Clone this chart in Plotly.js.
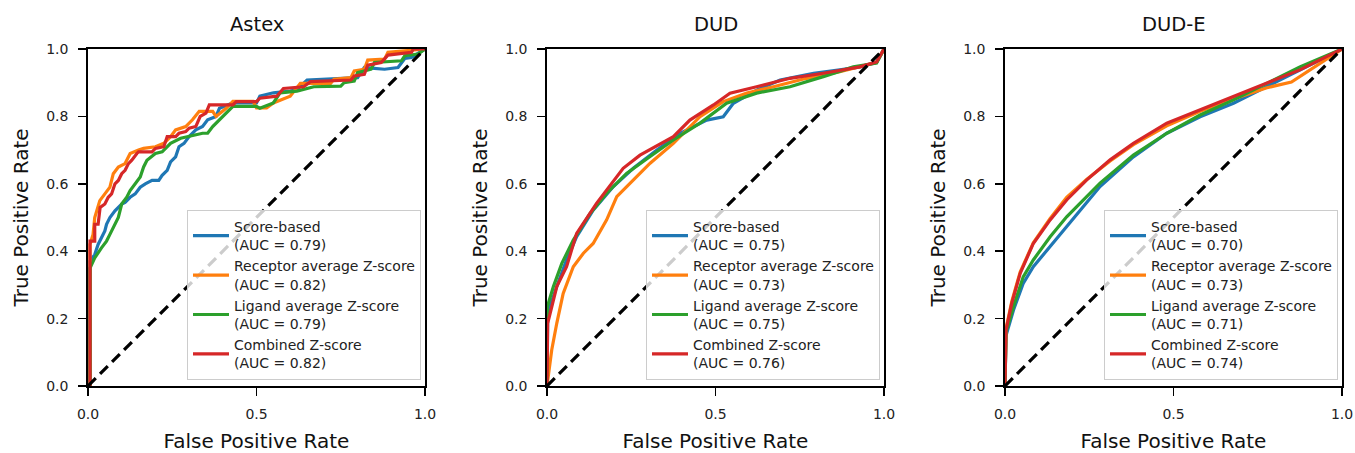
<!DOCTYPE html>
<html>
<head>
<meta charset="utf-8">
<script src="https://cdn.plot.ly/plotly-3.0.1.min.js"></script>
<style>html,body{margin:0;padding:0;background:#fff;}#chart{width:1355px;height:453px;}</style>
</head>
<body>
<div id="chart"></div>
<script>
// ---------- data ----------
const panelTitles = ["Astex", "DUD", "DUD-E"];
const seriesNames = ["Score-based", "Receptor average Z-score", "Ligand average Z-score", "Combined Z-score"];
const seriesColors = ["#1f77b4", "#ff7f0e", "#2ca02c", "#d62728"];
const xTickVals = [0, 0.5, 1];
const yTickVals = [0, 0.2, 0.4, 0.6, 0.8, 1];
const diagX = [0, 1];
const diagY = [0, 1];

const astexAUC = [0.79, 0.82, 0.79, 0.82];
const dudAUC = [0.75, 0.73, 0.75, 0.76];
const dudeAUC = [0.70, 0.73, 0.71, 0.74];

// Astex
const astexScoreX = [0, 0.006, 0.006, 0.02, 0.03, 0.04, 0.05, 0.055, 0.065, 0.08, 0.10, 0.11, 0.125, 0.14, 0.155, 0.17, 0.19, 0.21, 0.22, 0.235, 0.245, 0.26, 0.27, 0.285, 0.30, 0.32, 0.34, 0.355, 0.38, 0.39, 0.43, 0.50, 0.51, 0.55, 0.60, 0.62, 0.65, 0.80, 0.82, 0.88, 0.92, 0.94, 0.96, 1];
const astexScoreY = [0, 0, 0.37, 0.39, 0.42, 0.44, 0.46, 0.48, 0.50, 0.52, 0.54, 0.545, 0.56, 0.57, 0.59, 0.60, 0.61, 0.61, 0.625, 0.64, 0.665, 0.68, 0.71, 0.72, 0.74, 0.76, 0.77, 0.79, 0.80, 0.824, 0.84, 0.84, 0.86, 0.87, 0.875, 0.88, 0.908, 0.915, 0.945, 0.94, 0.945, 0.972, 0.975, 1];
const astexReceptorX = [0, 0.006, 0.006, 0.015, 0.02, 0.035, 0.05, 0.065, 0.075, 0.09, 0.11, 0.125, 0.15, 0.165, 0.20, 0.225, 0.245, 0.26, 0.29, 0.31, 0.33, 0.37, 0.38, 0.41, 0.43, 0.49, 0.50, 0.53, 0.55, 0.60, 0.63, 0.72, 0.73, 0.78, 0.79, 0.82, 0.83, 0.88, 0.89, 1];
const astexReceptorY = [0, 0, 0.42, 0.45, 0.50, 0.55, 0.57, 0.59, 0.63, 0.65, 0.66, 0.69, 0.70, 0.705, 0.71, 0.72, 0.74, 0.76, 0.77, 0.79, 0.815, 0.815, 0.80, 0.824, 0.845, 0.845, 0.825, 0.825, 0.84, 0.86, 0.898, 0.898, 0.91, 0.915, 0.935, 0.94, 0.967, 0.97, 0.99, 1];
const astexLigandX = [0, 0.006, 0.006, 0.02, 0.04, 0.055, 0.065, 0.075, 0.09, 0.10, 0.115, 0.125, 0.14, 0.155, 0.165, 0.175, 0.20, 0.22, 0.245, 0.275, 0.34, 0.355, 0.37, 0.385, 0.40, 0.43, 0.50, 0.51, 0.55, 0.57, 0.62, 0.67, 0.75, 0.76, 0.79, 0.80, 0.84, 0.85, 0.93, 0.94, 0.98, 1];
const astexLigandY = [0, 0, 0.35, 0.38, 0.41, 0.43, 0.45, 0.47, 0.50, 0.54, 0.56, 0.58, 0.60, 0.62, 0.65, 0.67, 0.69, 0.695, 0.72, 0.735, 0.75, 0.75, 0.77, 0.785, 0.80, 0.83, 0.83, 0.824, 0.84, 0.87, 0.875, 0.888, 0.89, 0.90, 0.905, 0.93, 0.94, 0.96, 0.965, 0.98, 0.985, 1];
const astexCombinedX = [0, 0.006, 0.006, 0.02, 0.02, 0.03, 0.036, 0.05, 0.06, 0.07, 0.08, 0.09, 0.10, 0.11, 0.12, 0.13, 0.145, 0.15, 0.19, 0.20, 0.225, 0.235, 0.26, 0.27, 0.29, 0.30, 0.32, 0.333, 0.35, 0.36, 0.43, 0.44, 0.50, 0.51, 0.56, 0.58, 0.64, 0.66, 0.78, 0.79, 0.82, 0.83, 0.87, 0.89, 0.96, 0.965, 1];
const astexCombinedY = [0, 0, 0.43, 0.43, 0.48, 0.48, 0.53, 0.54, 0.56, 0.57, 0.60, 0.61, 0.63, 0.64, 0.66, 0.67, 0.69, 0.695, 0.695, 0.705, 0.71, 0.74, 0.74, 0.75, 0.755, 0.765, 0.77, 0.80, 0.81, 0.834, 0.834, 0.844, 0.844, 0.854, 0.86, 0.883, 0.888, 0.903, 0.908, 0.92, 0.925, 0.952, 0.96, 0.982, 0.99, 1, 1];

// DUD
const dudScoreX = [0, 0.002, 0.029, 0.058, 0.088, 0.137, 0.197, 0.256, 0.326, 0.395, 0.474, 0.523, 0.553, 0.622, 0.692, 0.791, 0.869, 0.929, 0.978, 1];
const dudScoreY = [0, 0.215, 0.295, 0.374, 0.443, 0.522, 0.592, 0.646, 0.700, 0.750, 0.789, 0.799, 0.839, 0.878, 0.908, 0.928, 0.938, 0.947, 0.960, 1];
const dudReceptorX = [0, 0.014, 0.029, 0.048, 0.078, 0.108, 0.137, 0.177, 0.207, 0.256, 0.306, 0.375, 0.454, 0.523, 0.593, 0.672, 0.770, 0.869, 0.929, 0.978, 1];
const dudReceptorY = [0, 0.107, 0.186, 0.275, 0.354, 0.394, 0.423, 0.493, 0.562, 0.611, 0.661, 0.720, 0.799, 0.844, 0.869, 0.888, 0.913, 0.933, 0.947, 0.960, 1];
const dudLigandX = [0, 0.001, 0.019, 0.044, 0.078, 0.128, 0.177, 0.236, 0.306, 0.375, 0.454, 0.533, 0.622, 0.721, 0.820, 0.909, 0.978, 1];
const dudLigandY = [0, 0.235, 0.295, 0.364, 0.433, 0.512, 0.572, 0.631, 0.681, 0.730, 0.780, 0.839, 0.869, 0.888, 0.918, 0.947, 0.958, 1];
const dudCombinedX = [0, 0.002, 0.029, 0.058, 0.088, 0.147, 0.226, 0.276, 0.375, 0.424, 0.494, 0.543, 0.622, 0.721, 0.820, 0.929, 0.978, 1];
const dudCombinedY = [0, 0.186, 0.295, 0.354, 0.453, 0.542, 0.646, 0.685, 0.740, 0.789, 0.834, 0.869, 0.888, 0.913, 0.928, 0.947, 0.962, 1];

// DUD-E
const dudeScoreX = [0, 0.003, 0.025, 0.054, 0.084, 0.134, 0.183, 0.232, 0.282, 0.381, 0.480, 0.579, 0.678, 0.777, 0.875, 1];
const dudeScoreY = [0, 0.150, 0.225, 0.304, 0.354, 0.413, 0.473, 0.532, 0.592, 0.680, 0.750, 0.799, 0.839, 0.888, 0.938, 1];
const dudeReceptorX = [0, 0.003, 0.020, 0.045, 0.084, 0.134, 0.183, 0.242, 0.312, 0.381, 0.480, 0.579, 0.678, 0.777, 0.850, 0.900, 1];
const dudeReceptorY = [0, 0.170, 0.250, 0.338, 0.425, 0.497, 0.560, 0.613, 0.668, 0.716, 0.772, 0.815, 0.852, 0.885, 0.902, 0.935, 1];
const dudeLigandX = [0, 0.003, 0.025, 0.054, 0.084, 0.134, 0.183, 0.232, 0.282, 0.381, 0.480, 0.579, 0.678, 0.777, 0.875, 1];
const dudeLigandY = [0, 0.160, 0.235, 0.324, 0.374, 0.443, 0.502, 0.552, 0.602, 0.685, 0.750, 0.804, 0.849, 0.898, 0.947, 1];
const dudeCombinedX = [0, 0.003, 0.020, 0.045, 0.084, 0.134, 0.183, 0.242, 0.312, 0.381, 0.480, 0.579, 0.678, 0.777, 0.875, 1];
const dudeCombinedY = [0, 0.166, 0.245, 0.334, 0.423, 0.493, 0.552, 0.611, 0.671, 0.720, 0.780, 0.819, 0.858, 0.898, 0.938, 1];

const panels = [
  {xs: [astexScoreX, astexReceptorX, astexLigandX, astexCombinedX], ys: [astexScoreY, astexReceptorY, astexLigandY, astexCombinedY], auc: astexAUC},
  {xs: [dudScoreX, dudReceptorX, dudLigandX, dudCombinedX], ys: [dudScoreY, dudReceptorY, dudLigandY, dudCombinedY], auc: dudAUC},
  {xs: [dudeScoreX, dudeReceptorX, dudeLigandX, dudeCombinedX], ys: [dudeScoreY, dudeReceptorY, dudeLigandY, dudeCombinedY], auc: dudeAUC}
];

// ---------- build ----------
const FONT = "DejaVu Sans, sans-serif";
const W = 1355, H = 453;
const plotLeftPx = [88, 547, 1005];
const plotSize = 337;
const plotTopPx = 49;

const traces = [];
const layout = {
  width: W, height: H,
  margin: {l: 0, r: 0, t: 0, b: 0},
  paper_bgcolor: "#fff", plot_bgcolor: "#fff",
  font: {family: FONT, color: "#222"},
  showlegend: true,
  annotations: []
};

panels.forEach((p, i) => {
  const sfx = i === 0 ? "" : String(i + 1);
  const xa = "x" + sfx, ya = "y" + sfx;
  const legName = "legend" + sfx;
  for (let s = 0; s < 4; s++) {
    traces.push({
      type: "scatter", mode: "lines",
      x: p.xs[s], y: p.ys[s], xaxis: xa, yaxis: ya,
      name: seriesNames[s] + "<br>(AUC = " + p.auc[s].toFixed(2) + ")",
      line: {color: seriesColors[s], width: 3.2},
      legend: legName, showlegend: true
    });
  }
  traces.push({
    type: "scatter", mode: "lines", x: diagX, y: diagY, xaxis: xa, yaxis: ya,
    line: {color: "#000", width: 3.2, dash: "11px,6px"},
    showlegend: false, hoverinfo: "skip"
  });

  const x0 = plotLeftPx[i] / W, x1 = (plotLeftPx[i] + plotSize) / W;
  const y1 = 1 - plotTopPx / H, y0 = 1 - (plotTopPx + plotSize) / H;
  layout["xaxis" + sfx] = {
    domain: [x0, x1], anchor: ya, range: [0, 1],
    tickvals: xTickVals, tickformat: ".1f",
    ticks: "outside", ticklen: 8, tickwidth: 1.5, tickcolor: "#000",
    ticklabelstandoff: 6,
    showline: true, linecolor: "#000", linewidth: 1.8, mirror: true,
    showgrid: false, zeroline: false,
    tickfont: {family: FONT, size: 14, color: "#222"},
    title: {text: "False Positive Rate", font: {family: FONT, size: 20, color: "#111"}, standoff: 14},
    automargin: false, fixedrange: true
  };
  layout["yaxis" + sfx] = {
    domain: [y0, y1], anchor: xa, range: [0, 1],
    tickvals: yTickVals, tickformat: ".1f",
    ticks: "outside", ticklen: 8, tickwidth: 1.5, tickcolor: "#000",
    ticklabelstandoff: 7,
    showline: true, linecolor: "#000", linewidth: 1.8, mirror: true,
    showgrid: false, zeroline: false,
    tickfont: {family: FONT, size: 14, color: "#222"},
    title: {text: "True Positive Rate", font: {family: FONT, size: 20, color: "#111"}, standoff: 12},
    automargin: false, fixedrange: true
  };
  layout[legName] = {
    x: (plotLeftPx[i] + plotSize - 4) / W, xanchor: "right",
    y: 1 - 380 / H, yanchor: "bottom",
    bgcolor: "rgba(255,255,255,0.8)", bordercolor: "#cccccc", borderwidth: 1,
    font: {family: FONT, size: 14, color: "#222"},
    itemwidth: 36
  };
  layout.annotations.push({
    text: panelTitles[i], xref: "paper", yref: "paper",
    x: (x0 + x1) / 2, y: 1 - 25 / H, xanchor: "center", yanchor: "middle",
    showarrow: false, font: {family: FONT, size: 19.5, color: "#111"}
  });
});

Plotly.newPlot("chart", traces, layout, {displayModeBar: false, staticPlot: true});
</script>
</body>
</html>
